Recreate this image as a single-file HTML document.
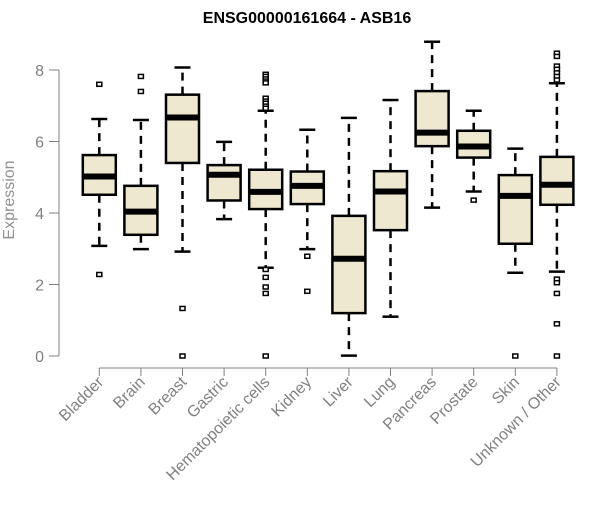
<!DOCTYPE html>
<html><head><meta charset="utf-8"><style>
body{margin:0;background:#fff;}
svg text{font-family:"Liberation Sans",sans-serif;}
</style></head><body>
<svg id="chart" width="600" height="500" xmlns="http://www.w3.org/2000/svg">
<text x="307" y="23" text-anchor="middle" font-weight="bold" font-size="16" fill="#000">ENSG00000161664 - ASB16</text>
<text transform="translate(14,200) rotate(-90)" text-anchor="middle" font-size="16" fill="#909090">Expression</text>
<g id="axes"></g><g id="boxes"></g>
</svg>
<script>
const categories=["Bladder","Brain","Breast","Gastric","Hematopoietic cells","Kidney","Liver","Lung","Pancreas","Prostate","Skin","Unknown / Other"];
const whiskerLow=[3.08,2.99,2.92,3.83,2.47,2.99,0.01,1.10,4.15,4.60,2.33,2.36];
const q1=[4.51,3.39,5.40,4.35,4.11,4.25,1.20,3.52,5.87,5.55,3.14,4.23];
const medians=[5.02,4.04,6.67,5.07,4.59,4.76,2.72,4.60,6.25,5.86,4.48,4.79];
const q3=[5.62,4.76,7.31,5.34,5.21,5.16,3.92,5.17,7.41,6.30,5.06,5.57];
const whiskerHigh=[6.63,6.60,8.07,5.99,6.86,6.33,6.66,7.16,8.79,6.86,5.80,7.63];
const outliers=[[7.6,2.28],[7.82,7.4],[1.33,0],[],[7.88,7.82,7.75,7.69,7.64,7.21,7.13,7.07,6.99,6.93,2.42,2.20,1.93,1.75,0],[2.79,1.81],[],[],[],[4.36],[0],[8.47,8.38,8.11,8.02,7.92,7.82,7.72,2.15,2.05,1.75,0.9,0]];
const yTicks=[0,2,4,6,8];
const NS="http://www.w3.org/2000/svg";
const y=v=>356-v*35.75;
const x=i=>99.3+i*41.6;
function mk(tag,attrs,parent){const e=document.createElementNS(NS,tag);for(const k in attrs)e.setAttribute(k,attrs[k]);parent.appendChild(e);return e;}
const ax=document.getElementById('axes');
const g=document.getElementById('boxes');
const gray="#808080";
let yl=mk('line',{x1:59,x2:59,y1:y(0),y2:y(8),stroke:gray},ax);


yTicks.forEach(t=>{
  const tk=mk('line',{x1:49,x2:59,y1:y(t),y2:y(t),stroke:gray},ax);
  
  
  const tl=mk('text',{x:44,y:y(t)+6,'text-anchor':'end','font-size':16,fill:gray},ax);
  tl.textContent=t;
  
  
});
let xl=mk('line',{x1:x(0),x2:x(categories.length-1),y1:368,y2:368,stroke:gray},ax);


const hw=16.5;
categories.forEach((c,i)=>{
  const cx=x(i);
  const tk=mk('line',{x1:cx,x2:cx,y1:368,y2:376,stroke:gray},ax);
  
  
  const tl=mk('text',{transform:`translate(${cx+5},${383}) rotate(-45)`,'text-anchor':'end','font-size':16,fill:gray},ax);
  tl.textContent=c;
  
  
  const bg=mk('g',{},g);
  
  
  mk('line',{x1:cx,x2:cx,y1:y(q3[i]),y2:y(whiskerHigh[i]),stroke:'#000','stroke-width':2.5,'stroke-dasharray':'8,6'},bg);
  mk('line',{x1:cx,x2:cx,y1:y(q1[i]),y2:y(whiskerLow[i]),stroke:'#000','stroke-width':2.5,'stroke-dasharray':'8,6'},bg);
  mk('line',{x1:cx-8,x2:cx+8,y1:y(whiskerHigh[i]),y2:y(whiskerHigh[i]),stroke:'#000','stroke-width':2.5},bg);
  mk('line',{x1:cx-8,x2:cx+8,y1:y(whiskerLow[i]),y2:y(whiskerLow[i]),stroke:'#000','stroke-width':2.5},bg);
  mk('rect',{x:cx-hw,y:y(q3[i]),width:hw*2,height:y(q1[i])-y(q3[i]),fill:'#ede8cf',stroke:'#000','stroke-width':2.5},bg);
  mk('line',{x1:cx-hw,x2:cx+hw,y1:y(medians[i]),y2:y(medians[i]),stroke:'#000','stroke-width':6},bg);
  outliers[i].forEach(o=>{
    const p=mk('rect',{x:cx-2.5,y:y(o)-2,width:5,height:4,fill:'#fff',stroke:'#000','stroke-width':1.5},bg);
    
    
  });
});
</script>
</body></html>
